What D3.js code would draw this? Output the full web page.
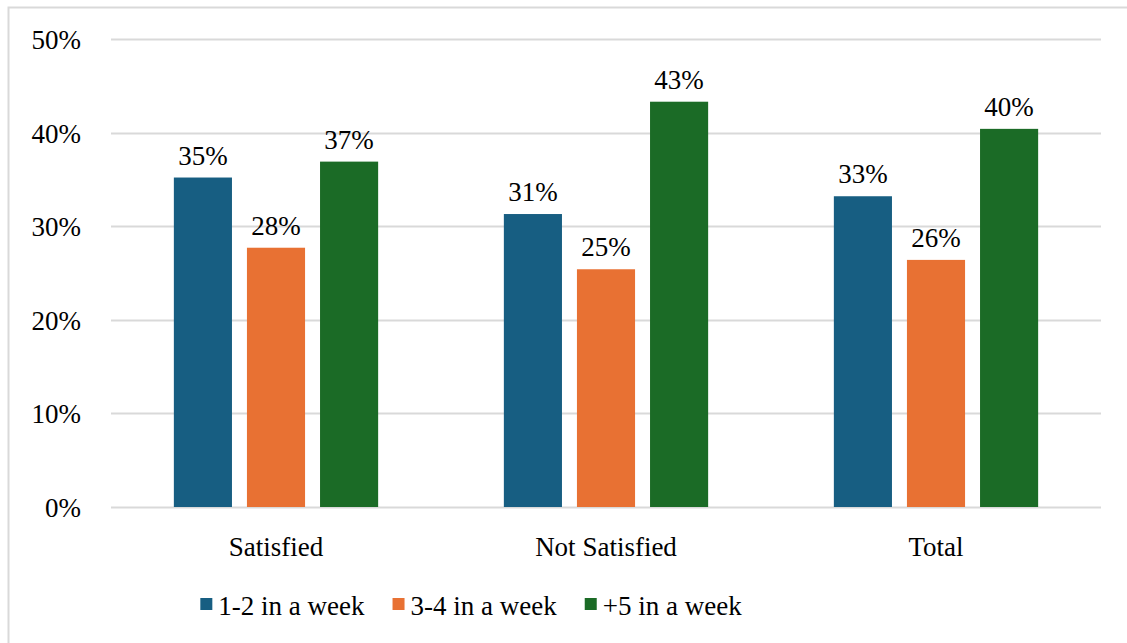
<!DOCTYPE html>
<html>
  <head>
    <meta charset="utf-8" />
    <title>Satisfaction by frequency</title>
    <script src="https://cdnjs.cloudflare.com/ajax/libs/d3/7.8.5/d3.min.js"></script>
    <style>
      body { margin: 0; background: #fff; }
    </style>
  </head>
  <body>
    <div id="chart"></div>
    <script>
      // data
      const categories = ["Satisfied", "Not Satisfied", "Total"];
      const seriesNames = ["1-2 in a week", "3-4 in a week", "+5 in a week"];
      const oneTwo = [0.352, 0.313, 0.332];
      const threeFour = [0.277, 0.254, 0.264];
      const fivePlus = [0.369, 0.433, 0.404];
      const yTicks = [0, 0.1, 0.2, 0.3, 0.4, 0.5];
      const colors = ["#175e82", "#e87133", "#1b6b26"];

      const series = [oneTwo, threeFour, fivePlus];
      const fontFamily = "'Liberation Serif', 'DejaVu Serif', serif";
      const fontSize = 27;

      const width = 1127, height = 643;
      const svg = d3.select("#chart").append("svg")
        .attr("width", width).attr("height", height)
        .attr("font-family", fontFamily);

      // outer frame
      svg.append("rect")
        .attr("x", 8.5).attr("y", 7.5)
        .attr("width", 1130).attr("height", 650)
        .attr("fill", "none").attr("stroke", "#d9d9d9").attr("stroke-width", 2);

      const plotLeft = 111, plotRight = 1101, plotTop = 39, plotBottom = 507;

      const x = d3.scaleBand().domain(categories).range([plotLeft, plotRight]);
      const x1 = d3.scaleBand().domain(d3.range(3)).range([0, x.bandwidth()])
        .paddingInner(0.205).paddingOuter(0.86);
      const y = d3.scaleLinear().domain([0, 0.5]).range([plotBottom, plotTop]);

      // gridlines
      svg.append("g").selectAll("line").data(yTicks).join("line")
        .attr("x1", plotLeft).attr("x2", plotRight)
        .attr("y1", d => Math.round(y(d)) + 0.5).attr("y2", d => Math.round(y(d)) + 0.5)
        .attr("stroke", "#d9d9d9").attr("stroke-width", 2);

      // y axis labels
      svg.append("g").selectAll("text").data(yTicks).join("text")
        .attr("x", 81).attr("y", d => y(d) + 10)
        .attr("text-anchor", "end").attr("font-size", fontSize)
        .text(d => d3.format(".0%")(d));

      // bars
      const groups = svg.append("g").selectAll("g").data(categories).join("g")
        .attr("transform", c => `translate(${x(c)},0)`);

      groups.selectAll("rect")
        .data((c, ci) => series.map((s, si) => ({ si, v: s[ci] })))
        .join("rect")
        .attr("x", d => x1(d.si)).attr("width", x1.bandwidth())
        .attr("y", d => y(d.v)).attr("height", d => y(0) - y(d.v))
        .attr("fill", d => colors[d.si]);

      groups.selectAll("text.val")
        .data((c, ci) => series.map((s, si) => ({ si, v: s[ci] })))
        .join("text").attr("class", "val")
        .attr("x", d => x1(d.si) + x1.bandwidth() / 2)
        .attr("y", d => y(d.v) - 13)
        .attr("text-anchor", "middle").attr("font-size", fontSize)
        .text(d => d3.format(".0%")(d.v));

      // category labels
      svg.append("g").selectAll("text").data(categories).join("text")
        .attr("x", c => x(c) + x.bandwidth() / 2).attr("y", 556)
        .attr("text-anchor", "middle").attr("font-size", fontSize)
        .text(c => c);

      // legend, laid out from measured text widths and centred like the reference
      const legend = svg.append("g");
      const items = legend.selectAll("g").data(seriesNames).join("g");
      items.append("rect").attr("width", 12).attr("height", 12).attr("y", -17)
        .attr("fill", (d, i) => colors[i]);
      items.append("text").attr("x", 18).attr("font-size", fontSize).text(d => d);
      let cursor = 0;
      items.each(function () {
        const w = 18 + this.querySelector("text").getComputedTextLength();
        d3.select(this).attr("transform", `translate(${cursor},0)`);
        cursor += w + 28;
      });
      const legendWidth = cursor - 28;
      legend.attr("transform", `translate(${471 - legendWidth / 2},615)`);
    </script>
  </body>
</html>
